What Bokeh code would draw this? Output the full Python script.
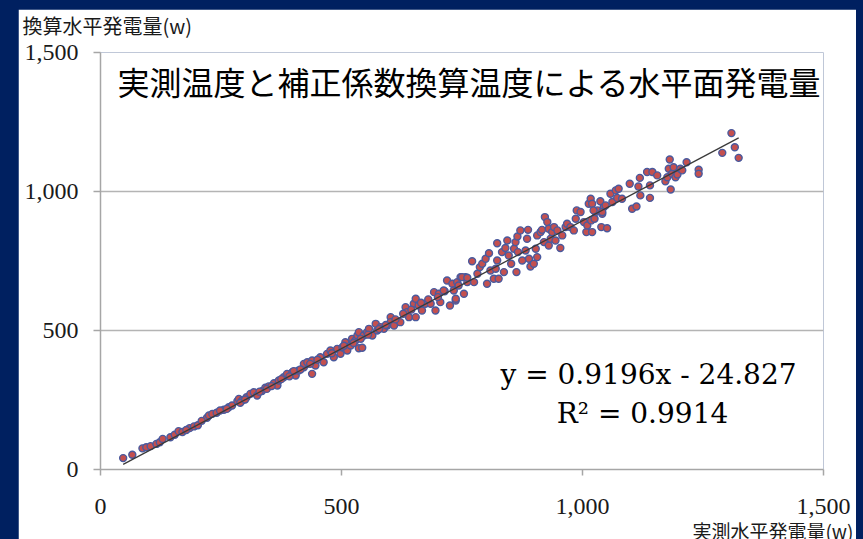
from bokeh.plotting import figure
from bokeh.models import FixedTicker, NumeralTickFormatter, Label, Range1d, Title
from bokeh.layouts import column
from bokeh.embed import file_html
from bokeh.resources import INLINE

# ---- data ----
measured = [
    47, 66, 87, 95, 104, 116, 123, 129, 145, 154, 162, 185, 194, 202, 221, 225, 232, 241, 256, 266,
    273, 284, 287, 294, 303, 311, 318, 325, 335, 342, 349, 360, 367, 370, 380, 387, 398, 405, 411, 422, 429,
    401, 422, 429, 439, 439, 446, 456, 463, 470, 477, 484, 491, 498, 502, 508, 512, 519, 522, 529, 533,
    536, 536, 543, 546, 553, 557, 564, 571, 574, 581, 588, 595, 602, 602, 609, 622, 633, 636, 640, 650,
    654, 654, 660, 667, 674, 685, 692, 695, 702, 705, 714, 719, 725, 730, 737, 740, 747, 754, 757, 761,
    712, 733, 737, 743, 750, 761, 771, 775, 782, 787, 792, 799, 802, 806, 809, 816, 820, 823, 823, 826,
    833, 837, 840, 844, 847, 852, 858, 861, 863, 865, 866, 871, 875, 882, 885, 887, 889, 892, 899, 903,
    906, 906, 913, 916, 920, 922, 927, 930, 930, 934, 937, 941, 944, 948, 954, 958, 965, 968, 975, 982,
    986, 988, 996, 1003, 1008, 1010, 1013, 1017, 1018, 1020, 1025, 1027, 1031, 1039, 1041, 1044, 1051,
    1058, 1069, 1075,
    1020, 1023, 1037, 1041, 1048, 1062, 1072, 1082, 1098, 1103, 1112, 1116, 1119, 1120, 1134, 1140, 1140,
    1145, 1155, 1172, 1176, 1179, 1181, 1183, 1186, 1189, 1193, 1197, 1203, 1207, 1216, 1241, 1241, 1290,
    1309, 1316, 1324,
    170, 178, 210, 248, 262, 290, 300, 330, 345, 355, 375, 392, 415, 435, 450, 480, 505, 525, 540, 555,
    578, 592, 612, 628, 645, 665, 680, 700,
]
converted = [
    41, 53, 76, 80, 84, 92, 98, 110, 116, 125, 138, 149, 155, 159, 186, 194, 200, 204, 215, 224,
    230, 246, 254, 248, 260, 272, 278, 266, 282, 294, 299, 310, 302, 320, 332, 344, 350, 338, 356, 368, 380,
    354, 380, 386, 392, 344, 374, 404, 386, 416, 428, 404, 434, 416, 440, 458, 428, 446, 470, 464, 482,
    494, 436, 438, 482, 494, 506, 482, 524, 500, 512, 506, 518, 548, 530, 518, 530, 584, 566, 548, 596,
    614, 548, 590, 572, 596, 596, 638, 572, 632, 602, 641, 680, 590, 668, 608, 674, 692, 632, 692, 674,
    644, 644, 614, 662, 692, 690, 749, 674, 704, 728, 740, 758, 668, 778, 716, 686, 722, 814, 752, 686,
    782, 710, 797, 824, 770, 740, 794, 818, 710, 838, 782, 860, 752, 788, 830, 862, 758, 730, 740, 794,
    842, 764, 854, 862, 818, 908, 890, 866, 806, 830, 854, 872, 824, 860, 797, 842, 872, 884, 872, 860,
    902, 932, 926, 890, 854, 878, 956, 974, 896, 854, 902, 926, 932, 872, 920, 944, 868,
    992, 1004, 1010,
    956, 932, 965, 926, 950, 962, 977, 974, 1028, 938, 946, 1018, 1049, 986, 1070, 977, 1022,
    1070, 1058, 1037, 1051, 1082, 1115, 1007, 1064, 1087, 1051, 1061, 1082, 1076, 1105, 1078, 1064, 1139,
    1210, 1159, 1121,
    135, 142, 175, 212, 218, 240, 252, 280, 290, 300, 325, 335, 360, 380, 395, 418, 445, 455, 470, 485,
    505, 520, 540, 560, 575, 600, 612, 620,
]
slope = 0.9196
intercept = -24.827
r_squared = 0.9914
axis_ticks = [0, 500, 1000, 1500]

title_text = "実測温度と補正係数換算温度による水平面発電量"
y_title = "換算水平発電量(w)"
x_title = "実測水平発電量(w)"
eq_text = "y = %.4fx - %.3f" % (slope, -intercept)
r2_text = "R² = %.4f" % r_squared

NAVY = "#002060"
GRID = "#B4B4B4"
AXIS = "#A6A6A6"
TXT = "#1a1a1a"

# page-pixel geometry of the frame
PAD_L, PAD_T, PAD_R = 18, 9, 7
FL, FR, FT, FB = 100, 823, 52, 469


def dx(px):
    return (px - FL) / (FR - FL) * 1500.0


def dy(py):
    return (FB - py) / (FB - FT) * 1500.0


p = figure(frame_width=FR - FL, frame_height=FB - FT,
           output_backend="svg", toolbar_location=None,
           x_range=Range1d(0, 1500), y_range=Range1d(0, 1500),
           min_border_left=FL - PAD_L, min_border_right=(863 - PAD_R) - FR,
           min_border_top=FT - PAD_T, min_border_bottom=0)
p.border_fill_color = "white"
p.background_fill_color = "white"
p.outline_line_color = None

for ax in (p.xaxis[0], p.yaxis[0]):
    ax.ticker = FixedTicker(ticks=axis_ticks)
    ax.formatter = NumeralTickFormatter(format="0,0")
    ax.axis_line_color = AXIS
    ax.axis_line_width = 1.5
    ax.major_tick_line_color = AXIS
    ax.major_tick_line_width = 1.5
    ax.major_tick_in = 0
    ax.minor_tick_line_color = None
    ax.major_label_text_font = "Liberation Serif"
    ax.major_label_text_font_size = "24px"
    ax.major_label_text_color = TXT
p.yaxis.major_tick_out = 7
p.yaxis.major_label_standoff = 15
p.xaxis.major_tick_out = 6
p.xaxis.major_label_standoff = 23

p.xgrid.grid_line_color = None
p.ygrid.grid_line_color = GRID
p.ygrid.grid_line_width = 1.5

p.scatter(measured, converted, size=7, marker="circle",
          fill_color="#C4504F", line_color="#4A5A9E", line_width=1.4)

x0, x1 = min(measured), max(measured)
p.line([x0, x1], [slope * x0 + intercept, slope * x1 + intercept],
       line_color="#3A3A3A", line_width=1.3)

p.add_layout(Label(x=dx(117), y=dy(80), text=title_text, text_align="left",
                   text_baseline="middle", text_font="Noto Sans CJK JP",
                   text_font_size="32px", text_color="black"))
p.add_layout(Label(x=dx(648), y=dy(374), text=eq_text, text_align="center",
                   text_baseline="middle", text_font="DejaVu Serif",
                   text_font_size="28px", text_color="black"))
p.add_layout(Label(x=dx(642), y=dy(413), text=r2_text, text_align="center",
                   text_baseline="middle", text_font="DejaVu Serif",
                   text_font_size="28px", text_color="black"))

# axis titles as Titles in the side panels (not clipped to the frame);
# an invisible spacer lifts the y-axis title to the top edge
p.add_layout(Title(text=" ", standoff=7, text_font_size="2px",
                   text_font_style="normal", text_color="white"), "above")
p.add_layout(Title(text=y_title, align="left", offset=22 - FL, vertical_align="top",
                   standoff=0, text_font="Noto Sans CJK JP", text_font_size="20px",
                   text_font_style="normal", text_color=TXT), "above")
p.add_layout(Title(text=x_title, align="right", offset=FR - 853, vertical_align="top",
                   standoff=0, text_font="Noto Sans CJK JP", text_font_size="19px",
                   text_font_style="normal", text_color=TXT), "below")

layout = column(p, styles={"background-color": NAVY,
                           "padding": "%dpx %dpx 0px %dpx" % (PAD_T, PAD_R, PAD_L)})

open("out.html", "w").write(file_html(layout, INLINE))
